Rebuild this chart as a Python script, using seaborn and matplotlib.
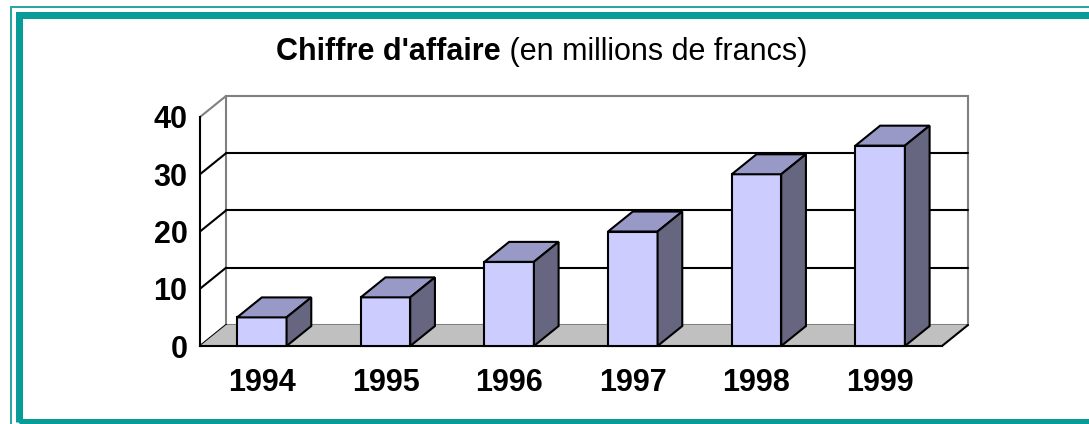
import matplotlib
matplotlib.use("Agg")
import matplotlib.pyplot as plt
from matplotlib.patches import Polygon, Rectangle
import seaborn as sns
import pandas as pd

# valeurs
annees = ["1994", "1995", "1996", "1997", "1998", "1999"]
chiffre = [5, 8.5, 14.7, 20, 30, 35]
graduations = [0, 10, 20, 30, 40]

sns.set_style("white")
plt.rcParams['font.family'] = ['Liberation Sans', 'DejaVu Sans']
plt.rcParams['text.color'] = 'black'
plt.rcParams['xtick.labelcolor'] = 'black'
plt.rcParams['ytick.labelcolor'] = 'black'

W, H = 1089, 424
fig = plt.figure(figsize=(W / 100, H / 100), dpi=100)
ax = fig.add_axes([200 / W, 78 / H, 742 / W, 229 / H])

df = pd.DataFrame({"annee": annees, "ca": chiffre})
sns.barplot(data=df, x="annee", y="ca", ax=ax, color="#ccccff", saturation=1,
            width=0.4, edgecolor="black", linewidth=1.5, zorder=5)
bars = list(ax.patches)

ax.set_xlim(-0.5, len(annees) - 0.5)
ax.set_ylim(0, 40)
ax.set_xlabel("")
ax.set_ylabel("")

# profondeur de la vue 3D (26 px vers la droite, 21 px vers le haut)
dx = 26 / 742 * len(annees)
dy = 21 / 229 * 40
x0, x1 = -0.5, len(annees) - 0.5

# mur du fond
ax.add_patch(Rectangle((x0 + dx, dy), x1 - x0, 40, fill=False, edgecolor="#808080",
                       lw=1.5, clip_on=False, zorder=1))
for v in graduations[1:-1]:
    ax.plot([x0 + dx, x1 + dx], [v + dy] * 2, color="black", lw=1.5, clip_on=False, zorder=1)
for v in graduations:
    c = "#808080" if v == graduations[-1] else "black"
    ax.plot([x0, x0 + dx], [v, v + dy], color=c, lw=1.5, clip_on=False, zorder=1)

# sol
ax.add_patch(Polygon([(x0, 0), (x1, 0), (x1 + dx, dy), (x0 + dx, dy)], facecolor="#c0c0c0",
                     edgecolor="none", clip_on=False, zorder=1.5))
ax.plot([x1, x1 + dx], [0, dy], color="black", lw=1.5, clip_on=False, zorder=2)

# faces du dessus et de côté
bx, by = dx * 0.95, dy * 0.95
for p in bars:
    p.set_clip_on(False)
    x, w, h = p.get_x(), p.get_width(), p.get_height()
    ax.add_patch(Polygon([(x, h), (x + w, h), (x + w + bx, h + by), (x + bx, h + by)],
                         facecolor="#9999c8", edgecolor="black", lw=1.5, clip_on=False, zorder=6))
    ax.add_patch(Polygon([(x + w, 0), (x + w + bx, by), (x + w + bx, h + by), (x + w, h)],
                         facecolor="#666680", edgecolor="black", lw=1.5, clip_on=False, zorder=6))

sns.despine(ax=ax)
for s in ["left", "bottom"]:
    ax.spines[s].set_color("black")
    ax.spines[s].set_linewidth(1.5)
    ax.spines[s].set_zorder(3)

ax.set_yticks(graduations)
ax.set_yticklabels([str(v) for v in graduations], fontweight="bold", fontsize=22, color="black")
ax.tick_params(axis="y", direction="out", length=5, width=1.5, color="black", pad=4)
ax.set_xticks(range(len(annees)))
ax.set_xticklabels(annees, fontweight="bold", fontsize=22, color="black")
ax.set_xticks([i - 0.5 for i in range(len(annees) + 1)], minor=True)
ax.tick_params(axis="x", which="major", length=0, pad=16)
ax.tick_params(axis="x", which="minor", direction="out", length=6, width=1.5, color="black")

# titre en deux graisses
r = fig.canvas.get_renderer()
t1 = fig.text(0, 1 - 52 / H, "Chiffre d'affaire", fontsize=22, fontweight="bold",
              va="center", color="black")
t2 = fig.text(0, 1 - 52 / H, " (en millions de francs)", fontsize=22, va="center", color="black")
w1 = t1.get_window_extent(r).width
w2 = t2.get_window_extent(r).width
start = 542 - (w1 + w2) / 2
t1.set_x(start / W)
t2.set_x((start + w1) / W)

# cadre turquoise
fig.add_artist(Rectangle((11 / W, -10 / H), 1100 / W, 427 / H, transform=fig.transFigure,
                         fill=False, edgecolor="#2aa7a2", lw=1.44))
fig.add_artist(Rectangle((18.5 / W, 2.5 / H), 1100 / W, 406.5 / H, transform=fig.transFigure,
                         fill=False, edgecolor="#089c98", lw=5.04))

fig.savefig("out.png", dpi=100)
